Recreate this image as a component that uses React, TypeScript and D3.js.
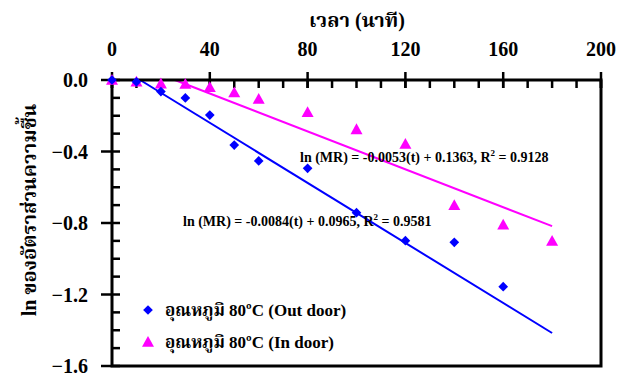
import React from "react";
import * as d3 from "d3";

const timeOut = [0, 10, 20, 30, 40, 50, 60, 80, 100, 120, 140, 160];
const lnMROut = [0, -0.01, -0.065, -0.1, -0.196, -0.364, -0.453, -0.494, -0.742, -0.899, -0.908, -1.156];
const timeIn = [0, 10, 20, 30, 40, 50, 60, 80, 100, 120, 140, 160, 180];
const lnMRIn = [0, -0.01, -0.02, -0.022, -0.04, -0.07, -0.106, -0.18, -0.276, -0.358, -0.7, -0.81, -0.9];
const fitOut = { slope: -0.0084, intercept: 0.0965, r2: 0.9581 };
const fitIn = { slope: -0.0053, intercept: 0.1363, r2: 0.9128 };
const xTicks = [0, 40, 80, 120, 160, 200];
const yTicks = [0, -0.4, -0.8, -1.2, -1.6];
const xTitle = "เวลา (นาที)";
const yTitle = "ln ของอัตราส่วนความชื้น";
const legendLabels = ["อุณหภูมิ 80ºC (Out door)", "อุณหภูมิ 80ºC (In door)"];

const FONT = "'Times New Roman', 'Liberation Serif', 'Noto Serif Thai', 'Noto Sans Thai', 'DejaVu Serif', serif";
const BLUE = "#0000ff";
const MAG = "#ff00ff";

export default function App() {
  const W = 628, H = 377;
  const L = 112, R = 601, T = 80, B = 366;
  const x = d3.scaleLinear().domain([0, 200]).range([L, R]);
  const y = d3.scaleLinear().domain([0, -1.6]).range([T, B]);
  const minorX = d3.range(0, 201, 10);
  const minorY = d3.range(0, -1.601, -0.1);

  const fitLine = (f: { slope: number; intercept: number }) => {
    const t0 = Math.max(0, -f.intercept / f.slope);
    const t1 = 180;
    return d3.line<number>().x((t) => x(t)).y((t) => y(f.slope * t + f.intercept))([t0, t1]) || "";
  };

  const diamond = d3.symbol().type(d3.symbolDiamond2 ?? d3.symbolDiamond).size(60)() || "";
  const triangle = (cx: number, cy: number, s = 6) =>
    `M${cx},${cy - s}L${cx + s},${cy + s * 0.8}L${cx - s},${cy + s * 0.8}Z`;

  const fmt = (v: number) => (v === 0 ? "0.0" : d3.format(".1f")(v));

  return (
    <svg width={W} height={H} style={{ position: "absolute", left: 0, top: 0, background: "#fff" }} fontFamily={FONT} fontWeight="bold">
      <rect x={0} y={0} width={W} height={H} fill="#fff" />
      {/* fit lines */}
      <path d={fitLine(fitIn)} stroke={MAG} strokeWidth={2} fill="none" />
      <path d={fitLine(fitOut)} stroke={BLUE} strokeWidth={2} fill="none" />
      {/* frame */}
      <rect x={L} y={T} width={R - L} height={B - T} fill="none" stroke="#000" strokeWidth={3} />
      {/* x minor ticks */}
      {minorX.map((t) => (
        <line key={"mx" + t} x1={x(t)} x2={x(t)} y1={T} y2={T + 8} stroke="#000" strokeWidth={2.5} />
      ))}
      {xTicks.map((t) => (
        <g key={"x" + t}>
          <line x1={x(t)} x2={x(t)} y1={T - 8} y2={T + 8} stroke="#000" strokeWidth={2.5} />
          <text x={x(t)} y={T - 24} textAnchor="middle" fontSize={20}>{t}</text>
        </g>
      ))}
      {minorY.map((v, i) => (
        <line key={"my" + i} x1={L} x2={L + 8} y1={y(v)} y2={y(v)} stroke="#000" strokeWidth={2.5} />
      ))}
      {yTicks.map((v) => (
        <g key={"y" + v}>
          <line x1={L - 11} x2={L} y1={y(v)} y2={y(v)} stroke="#000" strokeWidth={2.5} />
          <text x={88} y={y(v) + 7} textAnchor="end" fontSize={20}>{fmt(v)}</text>
        </g>
      ))}
      {/* titles */}
      <text x={357} y={27} textAnchor="middle" fontSize={20}>{xTitle}</text>
      <text transform={`translate(36,${210}) rotate(-90)`} textAnchor="middle" fontSize={20}>{yTitle}</text>
      {/* points */}
      {timeIn.map((t, i) => (
        <path key={"pi" + i} d={triangle(x(t), y(lnMRIn[i]))} fill={MAG} />
      ))}
      {timeOut.map((t, i) => (
        <path key={"po" + i} d={diamond} transform={`translate(${x(t)},${y(lnMROut[i])})`} fill={BLUE} />
      ))}
      {/* equations */}
      <text x={300} y={162} fontSize={14}>
        {`ln (MR) = ${fitIn.slope}(t) + ${fitIn.intercept}, R`}
        <tspan dy={-6} fontSize={9}>2</tspan>
        <tspan dy={6}>{` = ${fitIn.r2}`}</tspan>
      </text>
      <text x={183} y={226} fontSize={14}>
        {`ln (MR) = ${fitOut.slope}(t) + ${fitOut.intercept}, R`}
        <tspan dy={-6} fontSize={9}>2</tspan>
        <tspan dy={6}>{` = ${fitOut.r2}`}</tspan>
      </text>
      {/* legend */}
      <path d={diamond} transform={`translate(148,310)`} fill={BLUE} />
      <text x={165} y={316} fontSize={17}>{legendLabels[0]}</text>
      <path d={triangle(148, 342)} fill={MAG} />
      <text x={165} y={348} fontSize={17}>{legendLabels[1]}</text>
    </svg>
  );
}
